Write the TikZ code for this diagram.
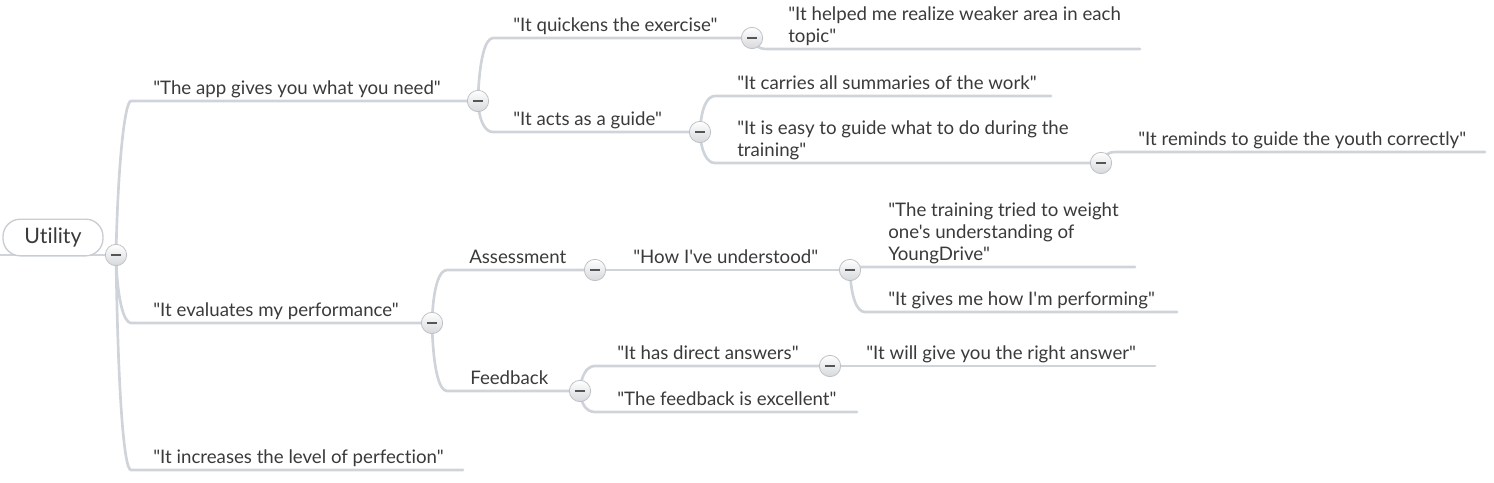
\documentclass[tikz,border=0pt]{standalone}
\usepackage{fontspec}
\newfontfamily\lato[Ligatures=NoCommon]{Lato}
\usetikzlibrary{backgrounds}
\definecolor{conncol}{RGB}{206,212,217}
\definecolor{txt}{RGB}{58,58,58}
\definecolor{btnborder}{RGB}{190,194,198}
\definecolor{btnbottom}{RGB}{214,216,219}
\definecolor{minuscol}{RGB}{85,85,85}
\definecolor{rootborder}{RGB}{200,205,210}
\tikzset{
  conn/.style={draw=conncol, line width=2pt, line cap=round},
  btn/.style={circle, draw=btnborder, line width=0.6pt, minimum size=16pt, inner sep=0pt,
    top color=white, bottom color=btnbottom,
    path picture={\draw[minuscol, line width=1.4pt]
      ([xshift=-3.4pt]path picture bounding box.center) -- ([xshift=3.4pt]path picture bounding box.center);}},
  lbl/.style={anchor=base west, inner sep=0pt, text=txt, align=left,
    font=\lato\fontsize{14}{16.5}\selectfont},
  rootbox/.style={rounded corners=13pt, draw=rootborder, line width=1pt, fill=white,
    minimum width=75pt, minimum height=27.5pt, inner sep=0pt, text=txt,
    font=\lato\fontsize{16}{20}\selectfont}
}
\begin{document}
\begin{tikzpicture}[x=0.75pt,y=-0.75pt]
\useasboundingbox (0,0) rectangle (1494,482);

% root
\coordinate (r0) at (0,255);
\node[rootbox] (root) at (53,237.5) {Utility};

% buttons
\node[btn] (b0) at (116,255) {};
\node[btn] (bA) at (478,101) {};
\node[btn] (bA1) at (752,38) {};
\node[btn] (bA2) at (700,132) {};
\node[btn] (bA22) at (1101,163) {};
\node[btn] (bB) at (432,323) {};
\node[btn] (bB1) at (595,270) {};
\node[btn] (bB11) at (850,270) {};
\node[btn] (bB2) at (580,391) {};
\node[btn] (bB21) at (830,366) {};

% line start/end coordinates
\coordinate (sA) at (131,101);
\coordinate (sB) at (131,323);
\coordinate (sC) at (131,470);
\coordinate (eC) at (463,470);
\coordinate (sA1) at (493,38);
\coordinate (sA2) at (493,132);
\coordinate (sA11) at (767,49);
\coordinate (eA11) at (1140,49);
\coordinate (sA21) at (715,96);
\coordinate (eA21) at (1051,96);
\coordinate (sA22) at (715,163);
\coordinate (sA221) at (1116,152);
\coordinate (eA221) at (1485,152);
\coordinate (sB1) at (447,270);
\coordinate (sB2) at (447,391);
\coordinate (sB111) at (865,267);
\coordinate (eB111) at (1135,267);
\coordinate (sB112) at (865,312);
\coordinate (eB112) at (1177,312);
\coordinate (sB21) at (595,366);
\coordinate (sB22) at (595,412);
\coordinate (eB22) at (857,412);
\coordinate (eB211) at (1155,366);

% labels
\node[lbl] (tA) at (153,94) {"The app gives you what you need"};
\node[lbl] (tB) at (153,316) {"It evaluates my performance"};
\node[lbl] (tC) at (153,463) {"It increases the level of perfection"};
\node[lbl] (tA1) at (513,31) {"It quickens the exercise"};
\node[lbl] (tA2) at (513,125) {"It acts as a guide"};
\node[lbl] (tA11) at (788,42) {"It helped me realize weaker area in each\\topic"};
\node[lbl] (tA21) at (737,89) {"It carries all summaries of the work"};
\node[lbl] (tA22) at (737,156) {"It is easy to guide what to do during the\\training"};
\node[lbl] (tA221) at (1138,145) {"It reminds to guide the youth correctly"};
\node[lbl] (tB1) at (469,263) {Assessment};
\node[lbl] (tB2) at (470,384) {Feedback};
\node[lbl] (tB11) at (633,263) {"How I've understood"};
\node[lbl] (tB111) at (888,260) {"The training tried to weight\\one's understanding of\\YoungDrive"};
\node[lbl] (tB112) at (888,305) {"It gives me how I'm performing"};
\node[lbl] (tB21) at (617,359) {"It has direct answers"};
\node[lbl] (tB22) at (617,405) {"The feedback is excellent"};
\node[lbl] (tB211) at (866,359) {"It will give you the right answer"};

\begin{pgfonlayer}{background}
\draw[conn] (r0) -- (b0.center);
\draw[conn] (b0.center) .. controls +(2,-95) and +(-6,0) .. (sA) -- (bA.center);
\draw[conn] (b0.center) .. controls +(1,45) and +(-7,0) .. (sB) -- (bB.center);
\draw[conn] (b0.center) .. controls +(2,140) and +(-7,0) .. (sC) -- (eC);
\draw[conn] (bA.center) .. controls +(1,-40) and +(-8,0) .. (sA1) -- (bA1.center);
\draw[conn] (bA.center) .. controls +(1,20) and +(-8,0) .. (sA2) -- (bA2.center);
\draw[conn] (bA1.center) .. controls +(2,8) and +(-8,0) .. (sA11) -- (eA11);
\draw[conn] (bA2.center) .. controls +(1,-24) and +(-8,0) .. (sA21) -- (eA21);
\draw[conn] (bA2.center) .. controls +(1,20) and +(-8,0) .. (sA22) -- (bA22.center);
\draw[conn] (bA22.center) .. controls +(2,-8) and +(-8,0) .. (sA221) -- (eA221);
\draw[conn] (bB.center) .. controls +(1,-35) and +(-8,0) .. (sB1) -- (bB1.center);
\draw[conn] (bB.center) .. controls +(1,45) and +(-8,0) .. (sB2) -- (bB2.center);
\draw[conn] (bB1.center) -- (bB11.center);
\draw[conn] (bB11.center) .. controls +(3,-2) and +(-8,0) .. (sB111) -- (eB111);
\draw[conn] (bB11.center) .. controls +(1,28) and +(-8,0) .. (sB112) -- (eB112);
\draw[conn] (bB2.center) .. controls +(1,-16) and +(-8,0) .. (sB21) -- (bB21.center);
\draw[conn] (bB2.center) .. controls +(1,14) and +(-8,0) .. (sB22) -- (eB22);
\draw[conn] (bB21.center) -- (eB211);
\end{pgfonlayer}
\end{tikzpicture}
\end{document}
